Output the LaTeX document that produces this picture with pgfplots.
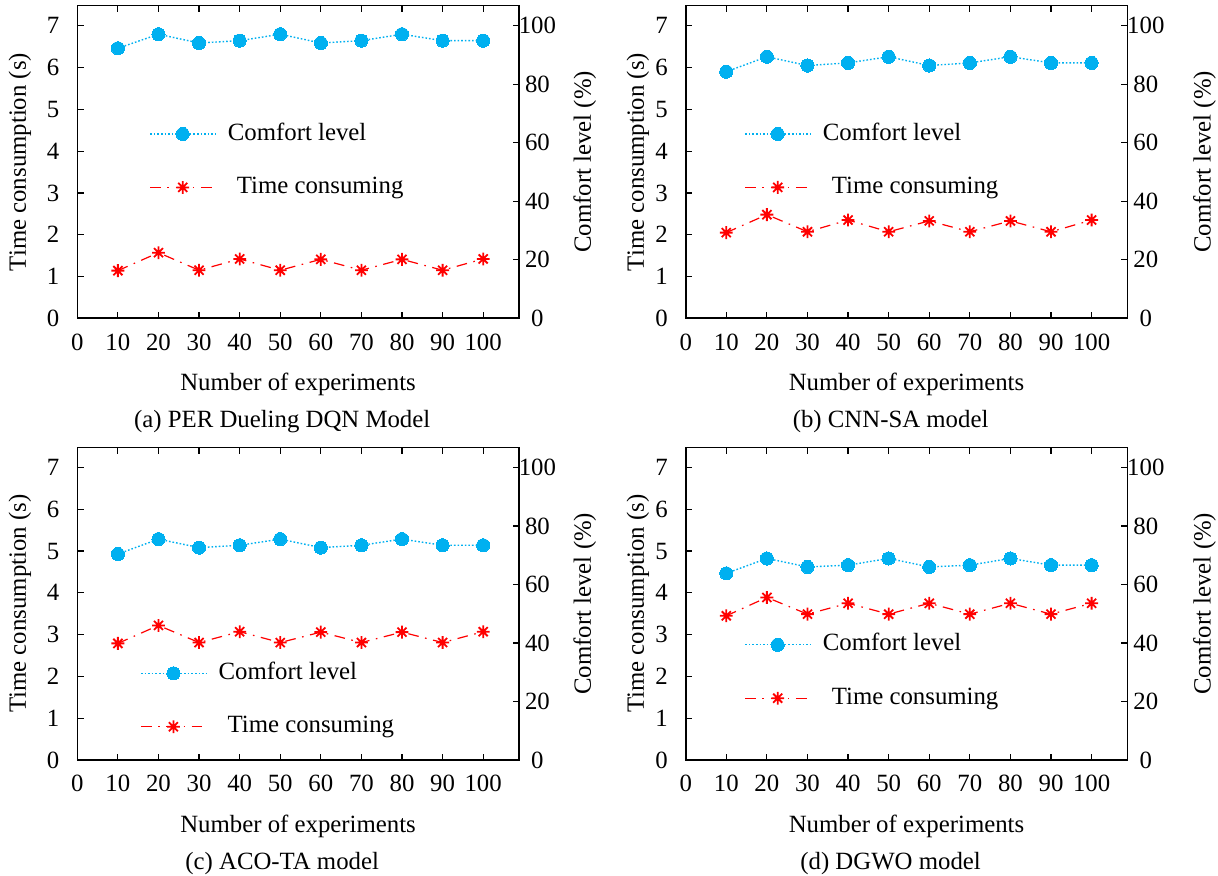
\documentclass[border=0pt]{standalone}
\usepackage{fontspec}
\setmainfont{Liberation Serif}
\usepackage{pgfplots}
\usepackage{pgfplotstable}
\pgfplotsset{compat=1.18}

\definecolor{cblue}{RGB}{0,176,240}
\definecolor{tred}{RGB}{255,0,0}
\newcommand{\lbl}{\fontsize{12.4}{14.5}\selectfont}

% gnuplot-like eight spoke star
\pgfdeclareplotmark{gstar}{%
  \pgfpathmoveto{\pgfqpoint{0pt}{\pgfplotmarksize}}\pgfpathlineto{\pgfqpoint{0pt}{-\pgfplotmarksize}}%
  \pgfpathmoveto{\pgfqpoint{\pgfplotmarksize}{0pt}}\pgfpathlineto{\pgfqpoint{-\pgfplotmarksize}{0pt}}%
  \pgfpathmoveto{\pgfqpoint{0.707\pgfplotmarksize}{0.707\pgfplotmarksize}}\pgfpathlineto{\pgfqpoint{-0.707\pgfplotmarksize}{-0.707\pgfplotmarksize}}%
  \pgfpathmoveto{\pgfqpoint{-0.707\pgfplotmarksize}{0.707\pgfplotmarksize}}\pgfpathlineto{\pgfqpoint{0.707\pgfplotmarksize}{-0.707\pgfplotmarksize}}%
  \pgfusepathqstroke}

% n = number of experiments, time in s, comfort in %
\pgfplotstableread{
n time comfort
10 1.14 92.3
20 1.57 97.1
30 1.15 94.1
40 1.42 94.9
50 1.15 97.1
60 1.41 94.1
70 1.15 94.9
80 1.41 97.1
90 1.15 94.9
100 1.42 94.9
}\dataA
\pgfplotstableread{
n time comfort
10 2.05 84.3
20 2.48 89.4
30 2.07 86.4
40 2.35 87.3
50 2.07 89.4
60 2.33 86.4
70 2.07 87.3
80 2.33 89.4
90 2.07 87.3
100 2.35 87.3
}\dataB
\pgfplotstableread{
n time comfort
10 2.79 70.4
20 3.22 75.5
30 2.81 72.6
40 3.07 73.4
50 2.81 75.5
60 3.06 72.6
70 2.81 73.4
80 3.06 75.5
90 2.81 73.4
100 3.07 73.4
}\dataC
\pgfplotstableread{
n time comfort
10 3.45 63.8
20 3.89 68.9
30 3.49 66.0
40 3.75 66.6
50 3.49 68.9
60 3.75 66.0
70 3.49 66.6
80 3.75 68.9
90 3.49 66.6
100 3.75 66.6
}\dataD

\pgfplotsset{
  panel/.style={scale only axis, width=220.8pt, height=156.3pt, anchor=south west,
    xmin=0, xmax=108.8, ymin=0, font=\lbl,
    tick align=inside, major tick length=3.2pt,
    axis line style={line width=0.8pt}, every tick/.style={black, line width=0.6pt},
    /pgf/number format/assume math mode=true, clip=false},
  leftax/.style={panel, ymax=7.48, ytick={0,1,...,7}, xtick={0,10,...,100},
    xtick pos=both, ytick pos=left,
    xticklabel style={anchor=north, inner sep=0pt, yshift=-7.5pt},
    yticklabel style={anchor=east, inner sep=0pt, xshift=-8.8pt},
    xlabel={Number of experiments}, ylabel={Time consumption (s)},
    xlabel style={at={(axis description cs:0.5,-0.2316)}, anchor=base},
    ylabel style={anchor=center},
    legend cell align=left,
    legend style={draw=none, fill=none, anchor=north west, row sep=14.7pt,
      column sep=6pt, nodes={inner sep=0pt, text height=9pt, text depth=3pt}},
    legend image code/.code={\draw[mark repeat=2,mark phase=2,##1]
      plot coordinates {(0pt,0pt) (16.25pt,0pt) (32.5pt,0pt)};}},
  rightax/.style={panel, ymax=106.86, ytick={0,20,...,100}, xtick=\empty,
    ytick pos=right, yticklabel pos=right,
    yticklabel style={anchor=center, inner sep=0pt, xshift=9.25pt},
    ylabel={Comfort level (\%)}, ylabel style={anchor=center}},
  comfortline/.style={cblue, line width=0.7pt, dash pattern=on 0.8pt off 1pt,
    mark=*, mark size=3.3pt, mark options={solid, fill=cblue, draw=cblue, line width=0pt}},
  timeline/.style={tred, line width=0.6pt, dash pattern=on 5.3pt off 3.3pt on 0.8pt off 3.3pt,
    mark=gstar, mark size=3.2pt, mark options={solid, line width=0.9pt}},
}

% #1 position, #2 table, #3 caption, #4 legend position, #5 left label x, #6 right label x
\newcommand{\panel}[6]{%
\begin{axis}[leftax, at={(#1)}, legend style={at={(axis description cs:#4)}},
  ylabel style={at={(axis description cs:#5,0.5)}}]
  \addlegendimage{comfortline}
  \addlegendentry{Comfort level}
  \addplot[timeline] table[x=n,y=time]{#2};
  \addlegendentry{\hspace{4.5pt}Time consuming}
  \node[anchor=base] at (axis description cs:0.464,-0.349) {#3};
\end{axis}
\begin{axis}[rightax, at={(#1)}, ylabel style={at={(axis description cs:#6,0.5)}}]
  \addplot[comfortline] table[x=n,y=comfort]{#2};
\end{axis}}

\begin{document}
\begin{tikzpicture}
\useasboundingbox (0,0) rectangle (609pt,438pt);
\panel{38.65pt,278.85pt}{\dataA}{(a) PER Dueling DQN Model}{0.149,0.642}{-0.130}{1.149}
\panel{342.85pt,278.85pt}{\dataB}{(b) CNN-SA model}{0.1186,0.642}{-0.108}{1.175}
\panel{38.65pt,58pt}{\dataC}{(c) ACO-TA model}{0.128,0.3296}{-0.130}{1.149}
\panel{342.85pt,58pt}{\dataD}{(d) DGWO model}{0.1186,0.421}{-0.108}{1.175}
\end{tikzpicture}
\end{document}
